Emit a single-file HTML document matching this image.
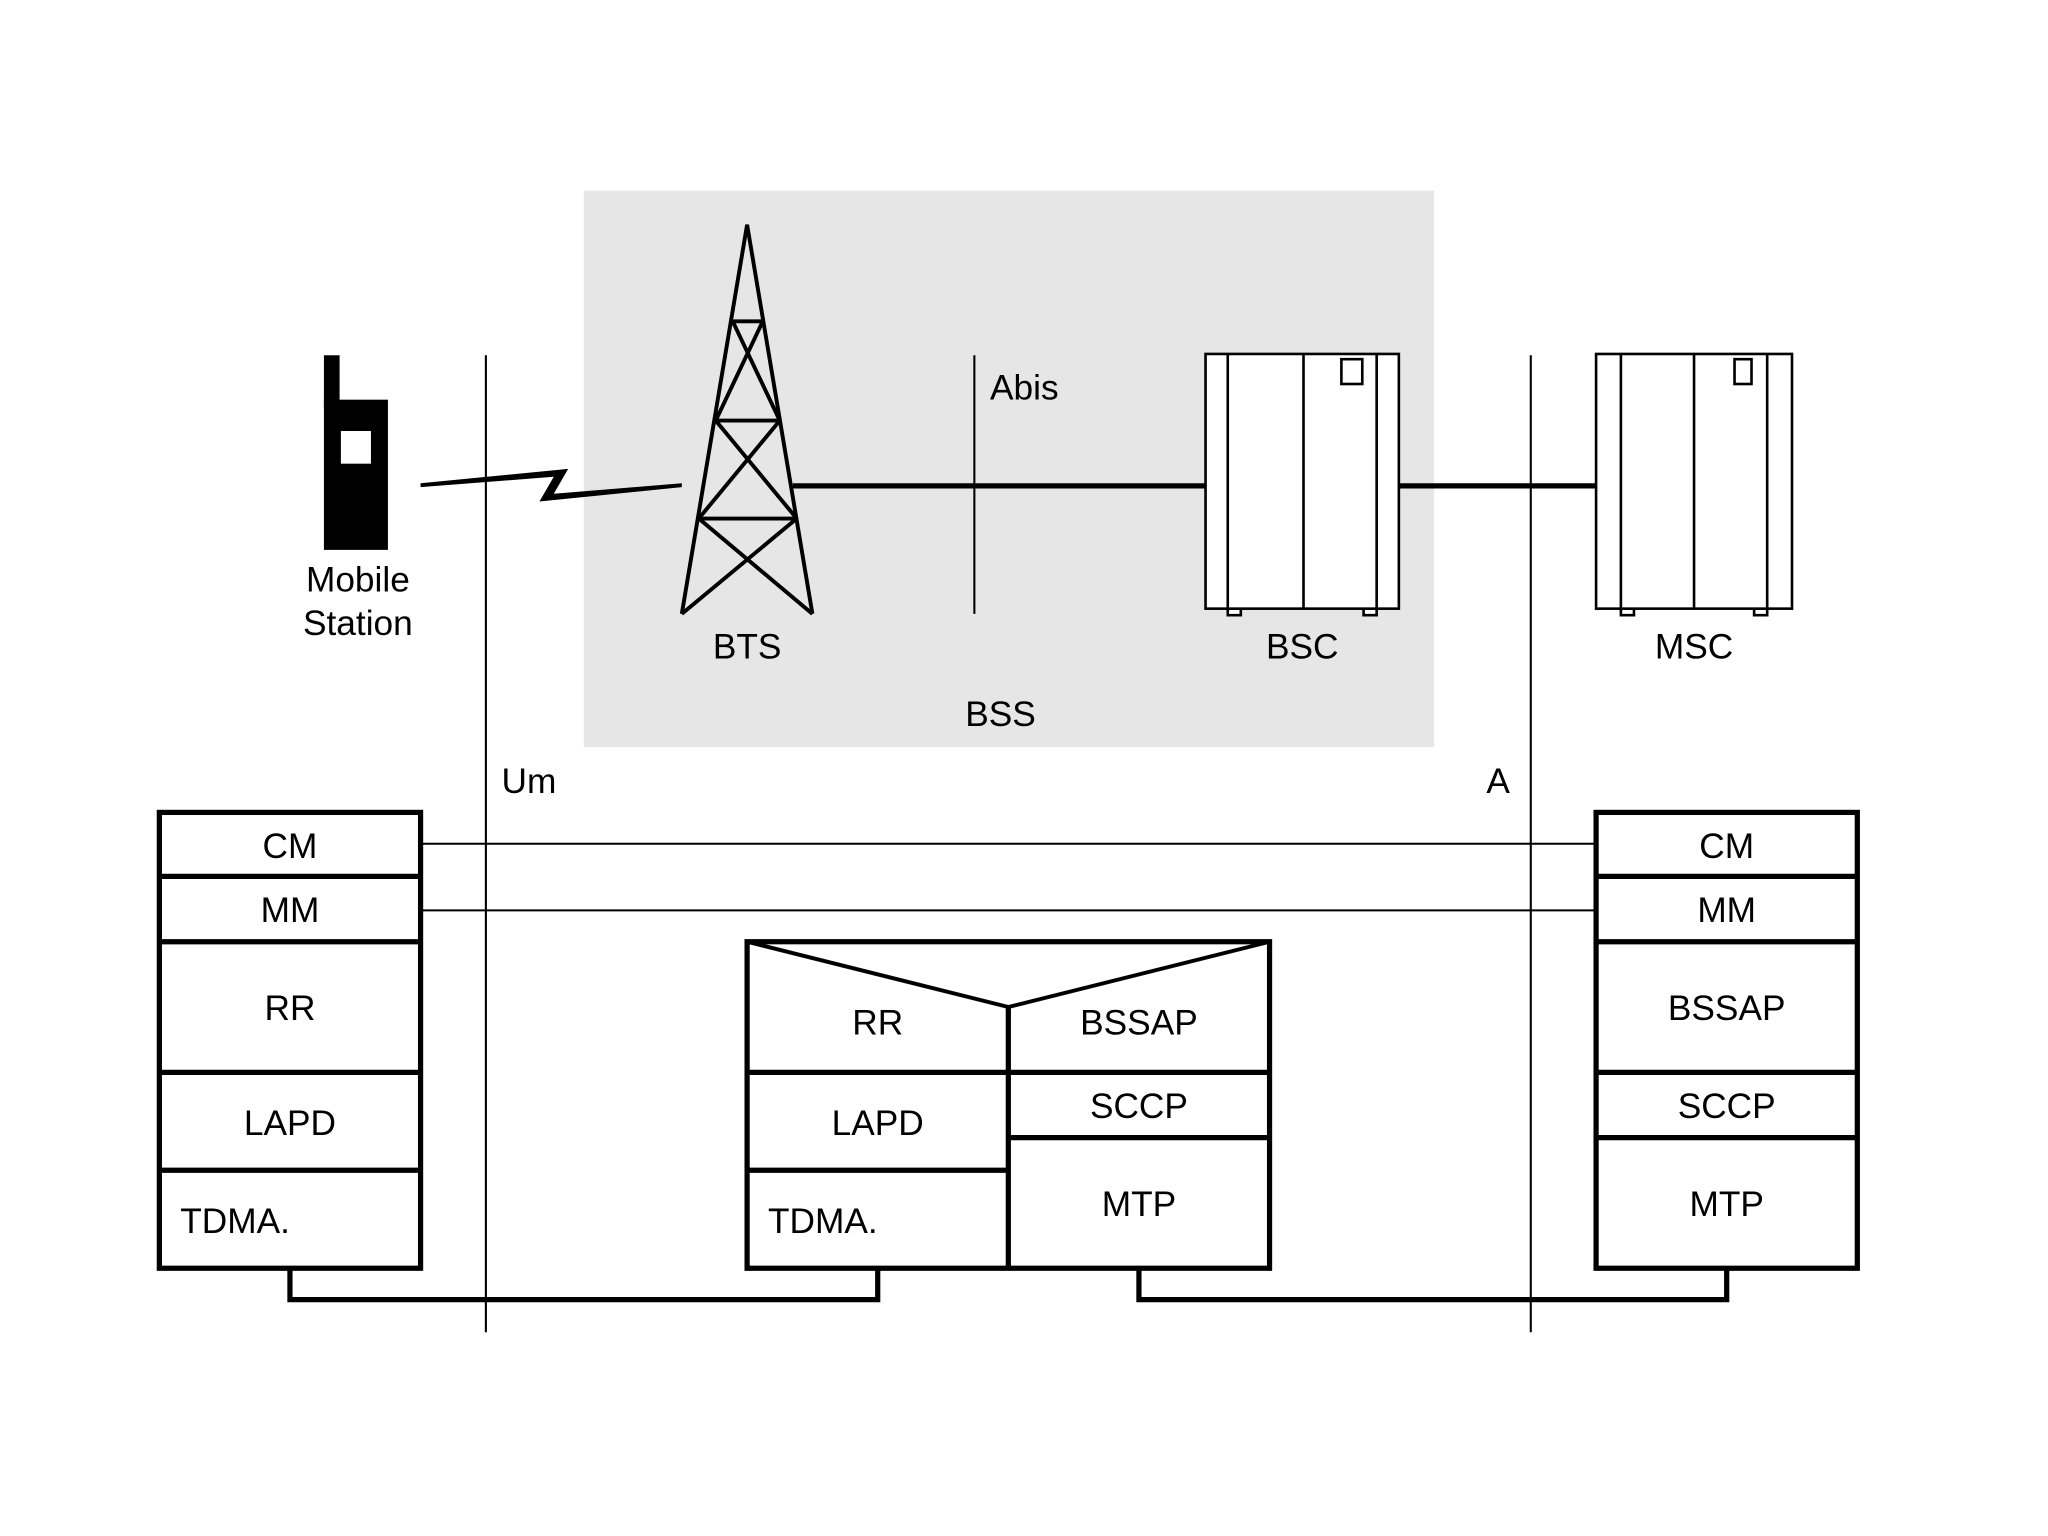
<!DOCTYPE html>
<html><head><style>html,body{margin:0;padding:0;background:#fff}svg{display:block}</style></head>
<body>
<svg width="2048" height="1536" viewBox="0 0 1568 1176" xmlns="http://www.w3.org/2000/svg" font-family="Liberation Sans, sans-serif" font-size="27" fill="#000">
<rect x="0" y="0" width="1568" height="1176" fill="#fff"/>
<rect x="447" y="146" width="651" height="426" fill="#e6e6e6"/>
<g stroke="#000" stroke-width="1.6">
<line x1="372" y1="272" x2="372" y2="1020"/>
<line x1="1172" y1="272" x2="1172" y2="1020"/>
<line x1="746" y1="272" x2="746" y2="470"/>
<line x1="322" y1="646" x2="1222" y2="646"/>
<line x1="322" y1="697" x2="1222" y2="697"/>
</g>
<!-- phone -->
<rect x="248" y="272" width="12" height="40" fill="#000"/>
<rect x="248" y="306" width="49" height="115" fill="#000"/>
<rect x="261" y="330" width="23" height="25" fill="#fff"/>
<!-- lightning -->
<polygon points="322,370 435,359 424,378 522,370 522,373 413,384 424,365 322,373" fill="#000"/>
<!-- tower -->
<g stroke="#000" stroke-width="3" fill="none">
<polyline points="522,470 572,172 622,470"/>
<line x1="561" y1="246" x2="584" y2="246"/>
<line x1="548" y1="322" x2="597" y2="322"/>
<line x1="535" y1="397" x2="610" y2="397"/>
<line x1="561" y1="246" x2="597" y2="322"/>
<line x1="584" y1="246" x2="548" y2="322"/>
<line x1="548" y1="322" x2="610" y2="397"/>
<line x1="597" y1="322" x2="535" y2="397"/>
<line x1="535" y1="397" x2="622" y2="470"/>
<line x1="610" y1="397" x2="522" y2="470"/>
</g>
<g stroke="#000" stroke-width="4">
<line x1="607" y1="372" x2="925" y2="372"/>
<line x1="1071" y1="372" x2="1222" y2="372"/>
</g>
<!-- BSC -->
<g stroke="#000" stroke-width="2" fill="#fff">
<rect x="940" y="466" width="10" height="5"/><rect x="1044" y="466" width="10" height="5"/>
<rect x="923" y="271" width="148" height="195"/>
<line x1="940" y1="271" x2="940" y2="466"/><line x1="998" y1="271" x2="998" y2="466"/><line x1="1054" y1="271" x2="1054" y2="466"/>
<rect x="1027" y="275" width="16" height="19"/>
<rect x="1241" y="466" width="10" height="5"/><rect x="1343" y="466" width="10" height="5"/>
<rect x="1222" y="271" width="150" height="195"/>
<line x1="1241" y1="271" x2="1241" y2="466"/><line x1="1297" y1="271" x2="1297" y2="466"/><line x1="1353" y1="271" x2="1353" y2="466"/>
<rect x="1328" y="275" width="13" height="19"/>
</g>
<g text-anchor="middle">
<text x="274" y="453">Mobile</text><text x="274" y="486">Station</text>
<text x="572" y="504">BTS</text><text x="997" y="504">BSC</text><text x="1297" y="504">MSC</text>
<text x="766" y="556">BSS</text>
</g>
<text x="758" y="306">Abis</text>
<text x="384" y="607">Um</text>
<text x="1138" y="607">A</text>
<!-- stacks -->
<g stroke="#000" stroke-width="4" fill="none">
<rect x="122" y="622" width="200" height="349"/>
<line x1="122" y1="671" x2="322" y2="671"/><line x1="122" y1="721" x2="322" y2="721"/>
<line x1="122" y1="821" x2="322" y2="821"/><line x1="122" y1="896" x2="322" y2="896"/>
<rect x="1222" y="622" width="200" height="349"/>
<line x1="1222" y1="671" x2="1422" y2="671"/><line x1="1222" y1="721" x2="1422" y2="721"/>
<line x1="1222" y1="821" x2="1422" y2="821"/><line x1="1222" y1="871" x2="1422" y2="871"/>
<rect x="572" y="721" width="400" height="250"/>
<line x1="772" y1="771" x2="772" y2="971"/>
<polyline points="572,721 772,771 972,721" stroke-width="3"/>
<line x1="572" y1="821" x2="972" y2="821"/><line x1="572" y1="896" x2="772" y2="896"/>
<line x1="772" y1="871" x2="972" y2="871"/>
<polyline points="222,971 222,995 672,995 672,971"/>
<polyline points="872,971 872,995 1322,995 1322,971"/>
</g>
<g text-anchor="middle">
<text x="222" y="657">CM</text><text x="222" y="706">MM</text><text x="222" y="781">RR</text><text x="222" y="869">LAPD</text>
<text x="1322" y="657">CM</text><text x="1322" y="706">MM</text><text x="1322" y="781">BSSAP</text><text x="1322" y="856">SCCP</text><text x="1322" y="931">MTP</text>
<text x="672" y="792">RR</text><text x="872" y="792">BSSAP</text><text x="672" y="869">LAPD</text><text x="872" y="856">SCCP</text><text x="872" y="931">MTP</text>
</g>
<text x="138" y="944">TDMA.</text>
<text x="588" y="944">TDMA.</text>
</svg>
</body></html>
